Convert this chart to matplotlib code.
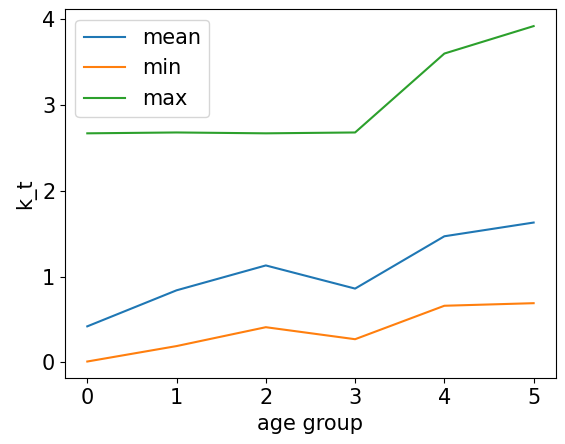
import numpy as np
import matplotlib.pyplot as plt

ageGroups = [0, 1, 2, 3, 4, 5]
kMean = [0.42, 0.84, 1.13, 0.86, 1.47, 1.63]
kMin = [0.01, 0.19, 0.41, 0.27, 0.66, 0.69]
kMax = [2.67, 2.68, 2.67, 2.68, 3.60, 3.92]

plt.rcParams['font.size'] = 15
fig = plt.figure(figsize=(5.65, 4.44), dpi=100)
ax = fig.add_axes([0.115, 0.148, 0.869, 0.831])
ax.plot(ageGroups, kMean, label='mean')
ax.plot(ageGroups, kMin, label='min')
ax.plot(ageGroups, kMax, label='max')
ax.set_xlabel('age group')
ax.set_ylabel('k_t')
ax.set_yticks([0, 1, 2, 3, 4])
ax.legend(loc='upper left')
fig.savefig('out.png')
